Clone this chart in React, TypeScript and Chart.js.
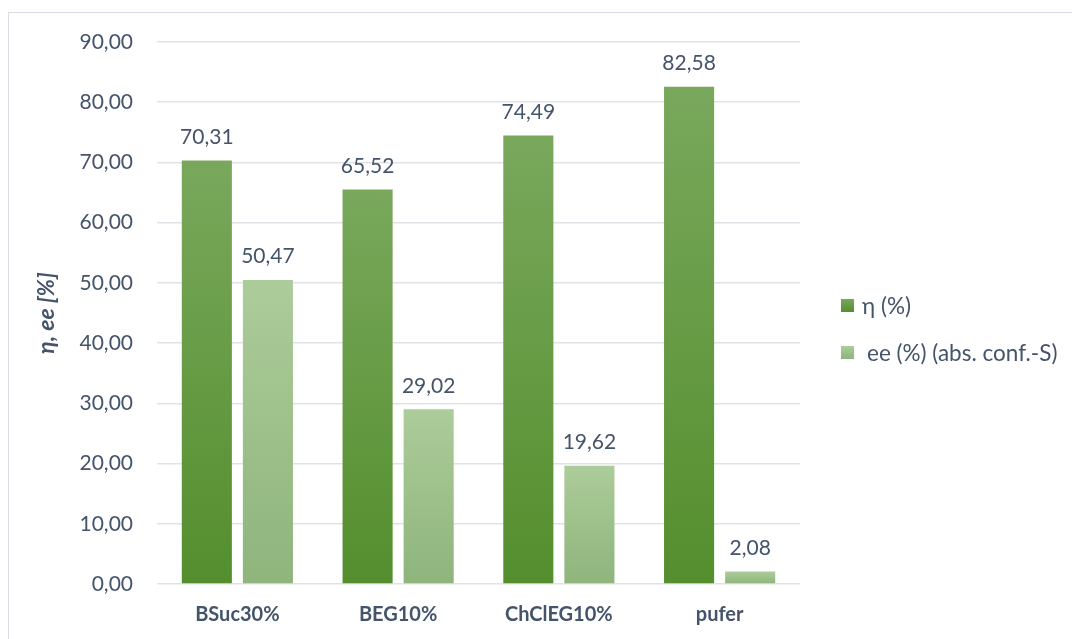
import React, { useEffect, useRef } from "react";
import { Chart, registerables } from "chart.js";

Chart.register(...registerables);

const categories = ["BSuc30%", "BEG10%", "ChClEG10%", "pufer"];
const etaValues = [70.31, 65.52, 74.49, 82.58];
const eeValues = [50.47, 29.02, 19.62, 2.08];
const seriesNames = ["η (%)", "ee (%) (abs. conf.-S)"];
const yTitle = "η, ee [%]";

const TEXT = "#44546a";
const FONT = "Lato, 'Open Sans', sans-serif";
const DARK = ["#79a85c", "#548e2d"];
const LIGHT = ["#accc99", "#8fb47c"];

const fmt = (v: number) => v.toFixed(2).replace(".", ",");

function gradient(colors: string[]) {
  return (ctx: any) => {
    const chart = ctx.chart;
    const { chartArea, scales } = chart;
    if (!chartArea || ctx.type !== "data" || !scales.y) return colors[1];
    const yTop = scales.y.getPixelForValue(ctx.raw);
    const yBot = scales.y.getPixelForValue(0);
    if (!isFinite(yTop) || !isFinite(yBot) || yTop === yBot) return colors[1];
    const g = chart.ctx.createLinearGradient(0, yTop, 0, yBot);
    g.addColorStop(0, colors[0]);
    g.addColorStop(1, colors[1]);
    return g;
  };
}

const valueLabels = {
  id: "valueLabels",
  afterDatasetsDraw(chart: any) {
    const c = chart.ctx;
    c.save();
    c.font = `21px ${FONT}`;
    c.fillStyle = TEXT;
    c.textAlign = "center";
    c.textBaseline = "bottom";
    chart.data.datasets.forEach((ds: any, di: number) => {
      const meta = chart.getDatasetMeta(di);
      meta.data.forEach((el: any, i: number) => {
        c.fillText(fmt(ds.data[i]), el.x, el.y - 13);
      });
    });
    c.restore();
  },
};

export default function App() {
  const ref = useRef<HTMLCanvasElement>(null);
  useEffect(() => {
    if (!ref.current) return;
    const chart = new Chart(ref.current, {
      type: "bar",
      data: {
        labels: categories,
        datasets: [
          { label: seriesNames[0], data: etaValues, backgroundColor: gradient(DARK) as any },
          { label: seriesNames[1], data: eeValues, backgroundColor: gradient(LIGHT) as any },
        ],
      },
      options: {
        responsive: false,
        animation: false,
        devicePixelRatio: 1,
        categoryPercentage: 0.76,
        barPercentage: 0.82,
        layout: { padding: { left: 24, top: 29, right: 272, bottom: 0 } },
        plugins: {
          legend: { display: false },
          tooltip: { enabled: false },
        },
        scales: {
          x: {
            grid: { display: false, drawTicks: false },
            border: { display: false },
            ticks: {
              color: TEXT,
              font: { family: FONT, size: 20, weight: "bold" },
              padding: 19,
            },
            afterFit: (s: any) => {
              s.height = 56;
            },
          },
          y: {
            min: 0,
            max: 90,
            grid: { color: "#dfe3e8", lineWidth: 1.5, drawTicks: false },
            border: { display: false },
            ticks: {
              stepSize: 10,
              color: TEXT,
              padding: 24,
              font: { family: FONT, size: 21 },
              callback: (v: any) => fmt(Number(v)),
            },
            title: {
              display: true,
              text: yTitle,
              color: TEXT,
              font: { family: FONT, size: 23, weight: "bold", style: "italic" },
              padding: { top: 0, bottom: 0 },
            },
            afterFit: (s: any) => {
              s.width = 124;
              s.paddingTop = 0;
              s.paddingBottom = 0;
            },
          },
        },
      },
      plugins: [valueLabels],
    });
    return () => chart.destroy();
  }, []);

  const legendItem = (top: number, colors: string[], text: string, textLeft: number) => (
    <div style={{ position: "absolute", left: 832, top, height: 26, width: 230 }}>
      <div
        style={{
          position: "absolute",
          left: 0,
          top: 6,
          width: 13,
          height: 13,
          background: `linear-gradient(${colors[0]}, ${colors[1]})`,
        }}
      />
      <div
        style={{
          position: "absolute",
          left: textLeft,
          top: 0,
          whiteSpace: "nowrap",
          font: `22.5px ${FONT}`,
          lineHeight: "26px",
          color: TEXT,
        }}
      >
        {text}
      </div>
    </div>
  );

  return (
    <div
      style={{
        position: "absolute",
        left: 8,
        top: 12,
        width: 1064,
        height: 627,
        borderTop: "1px solid #d9dde3",
        borderLeft: "1px solid #d9dde3",
        background: "#fff",
      }}
    >
      <canvas ref={ref} width={1063} height={627} style={{ display: "block" }} />
      {legendItem(280, DARK, seriesNames[0], 21)}
      {legendItem(327, LIGHT, seriesNames[1], 26)}
    </div>
  );
}
